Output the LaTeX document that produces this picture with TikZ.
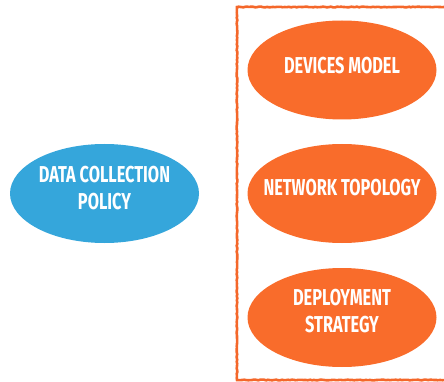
\documentclass[tikz,border=0pt]{standalone}
\usepackage{fontspec}
\newfontfamily\labelfont[FakeStretch=0.71]{Fira Sans}
\usetikzlibrary{shapes.geometric,decorations.pathmorphing}
\definecolor{policyblue}{HTML}{35A6DB}
\definecolor{factororange}{HTML}{F96C2B}
\definecolor{frameorange}{HTML}{F4672A}
\tikzset{
  bubble/.style={ellipse, draw=none, inner sep=0pt,
    minimum width=189pt, minimum height=99pt},
  bubbletext/.style={text=white, align=center, inner sep=0pt,
    font=\labelfont\bfseries\fontsize{23}{27}\selectfont},
  policy/.style={bubble, fill=policyblue},
  factor/.style={bubble, fill=factororange},
  roughframe/.style={draw=frameorange, line width=2.6pt,
    decorate, decoration={random steps, segment length=2pt, amplitude=0.35pt}}
}
\begin{document}
\begin{tikzpicture}[x=1pt,y=-1pt]
  \useasboundingbox (0,0) rectangle (444,382);
  % group frame around the three factors
  \begin{scope}
    \clip (0,0) rectangle (444,382);
    \draw[roughframe] (237,7) -- (452,7) -- (452,380) -- (237,380) -- cycle;
  \end{scope}
  \node[policy] (policy) at (104.5,193.5) {};
  \node[factor] (devices) at (342,70) {};
  \node[factor] (network) at (342,193.5) {};
  \node[factor] (deploy) at (342,317.5) {};
  \node[bubbletext] (policytext) at ([yshift=5.5pt]policy.center) {DATA COLLECTION\\POLICY};
  \node[bubbletext] (devicestext) at ([yshift=4pt]devices.center) {DEVICES MODEL};
  \node[bubbletext] (networktext) at ([yshift=5.5pt]network.center) {NETWORK TOPOLOGY};
  \node[bubbletext] (deploytext) at ([yshift=6pt]deploy.center) {DEPLOYMENT\\STRATEGY};
\end{tikzpicture}
\end{document}
